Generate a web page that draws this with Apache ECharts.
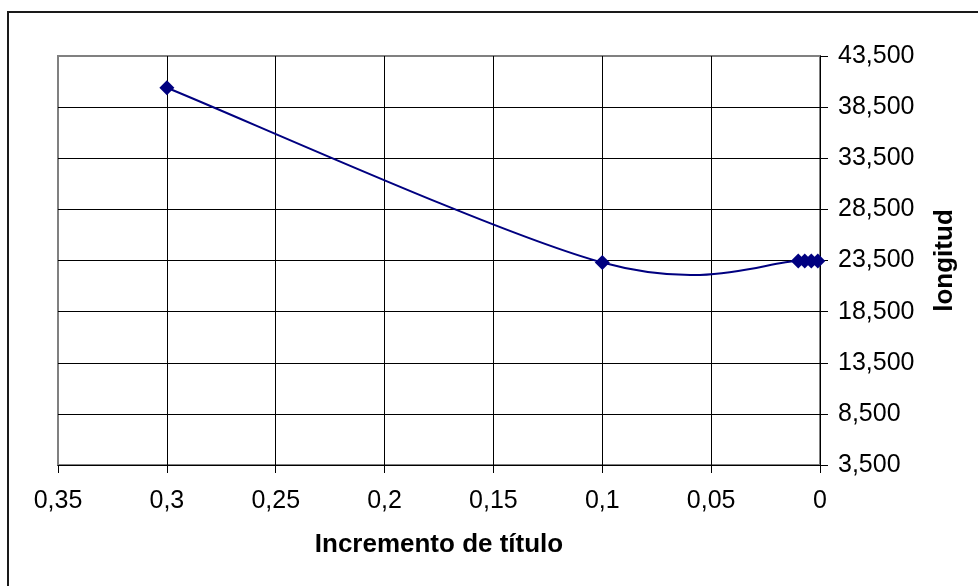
<!DOCTYPE html>
<html>
<head>
<meta charset="utf-8">
<script src="https://cdn.jsdelivr.net/npm/echarts@6/dist/echarts.min.js"></script>
<style>
  html, body { margin: 0; padding: 0; background: #fff; }
  #chart { width: 978px; height: 586px; }
</style>
</head>
<body>
<div id="chart"></div>
<script>
// Incremento de título (x) against longitud (y)
const incrementos = [0.3, 0.1, 0.01, 0.007, 0.004, 0.001];
const longitudes = [40400, 23300, 23450, 23450, 23450, 23450];

const xTicks = { min: 0, max: 0.35, step: 0.05 };
const yTicks = { min: 3500, max: 43500, step: 5000 };

const fontFamily = '"Liberation Sans", Arial, sans-serif';
const navy = '#000080';

const points = incrementos.map((x, i) => [x, longitudes[i]]);

// Smoothed curve through the points: cubic Bézier segments whose control
// points follow the Catmull-Rom rule (tangent = (next - prev) / 6), computed
// in pixel space after the axes have mapped each point.
function renderCurve(params, api) {
  const px = points.map(p => api.coord(p));
  const children = [];
  for (let i = 0; i < px.length - 1; i++) {
    const p0 = px[i - 1] || px[i];
    const p1 = px[i];
    const p2 = px[i + 1];
    const p3 = px[i + 2] || px[i + 1];
    children.push({
      type: 'bezierCurve',
      shape: {
        x1: p1[0], y1: p1[1],
        cpx1: p1[0] + (p2[0] - p0[0]) / 6, cpy1: p1[1] + (p2[1] - p0[1]) / 6,
        cpx2: p2[0] - (p3[0] - p1[0]) / 6, cpy2: p2[1] - (p3[1] - p1[1]) / 6,
        x2: p2[0], y2: p2[1]
      },
      style: { fill: 'none', stroke: navy, lineWidth: 2 }
    });
  }
  return { type: 'group', children };
}

const chart = echarts.init(document.getElementById('chart'), null, { renderer: 'canvas' });

chart.setOption({
  animation: false,
  backgroundColor: '#ffffff',
  graphic: [{
    type: 'rect',
    shape: { x: 8, y: 12, width: 1000, height: 620 },
    style: { fill: 'none', stroke: '#1a1a1a', lineWidth: 2 },
    silent: true
  }],
  grid: {
    left: 58, right: 158, top: 56, bottom: 121,
    show: true, borderColor: '#808080', borderWidth: 2, backgroundColor: 'transparent'
  },
  xAxis: {
    type: 'value',
    inverse: true,
    min: xTicks.min, max: xTicks.max, interval: xTicks.step,
    name: 'Incremento de título',
    nameLocation: 'middle',
    nameGap: 67,
    nameTextStyle: { fontFamily, fontSize: 26, fontWeight: 'bold', color: '#000', verticalAlign: 'top' },
    axisLine: { show: true, onZero: false, lineStyle: { color: '#000', width: 1 } },
    axisTick: { show: true, inside: false, length: 8, lineStyle: { color: '#000' } },
    axisLabel: {
      fontFamily, fontSize: 25, color: '#000', margin: 24,
      formatter: v => String(+v.toFixed(2)).replace('.', ',')
    },
    splitLine: { show: true, showMaxLine: false, showMinLine: false, lineStyle: { color: '#000', width: 1 } }
  },
  yAxis: {
    type: 'value',
    position: 'right',
    min: yTicks.min, max: yTicks.max, interval: yTicks.step,
    name: 'longitud',
    nameLocation: 'middle',
    nameGap: 112,
    nameRotate: 90,
    nameTextStyle: { fontFamily, fontSize: 26, fontWeight: 'bold', color: '#000' },
    axisLine: { show: true, lineStyle: { color: '#000', width: 1 } },
    axisTick: { show: true, inside: false, length: 8, lineStyle: { color: '#000' } },
    axisLabel: {
      fontFamily, fontSize: 25, color: '#000', margin: 18,
      formatter: v => v.toLocaleString('en-US')
    },
    splitLine: { show: true, showMaxLine: false, showMinLine: false, lineStyle: { color: '#000', width: 1 } }
  },
  series: [{
    type: 'custom',
    data: [0],
    renderItem: renderCurve,
    silent: true,
    z: 2
  }, {
    type: 'scatter',
    data: points,
    symbol: 'diamond',
    symbolSize: 15,
    itemStyle: { color: navy, opacity: 1 },
    z: 3
  }]
});
</script>
</body>
</html>
